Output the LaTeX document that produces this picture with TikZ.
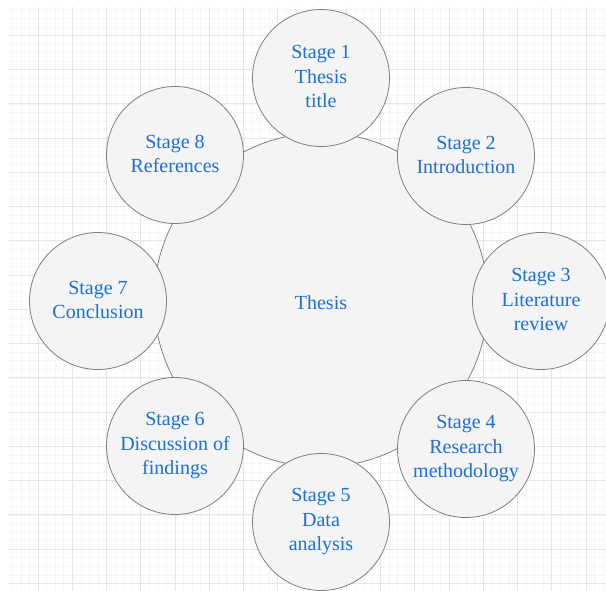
\documentclass[tikz,border=0pt]{standalone}
\usepackage{fontspec}
\setmainfont{Liberation Serif}
\newfontfamily\stagefont{Liberation Serif}
\usepackage{tikz}
\usetikzlibrary{positioning}
\usepackage{xcolor}
\definecolor{stagetext}{HTML}{1C6FD6}
\definecolor{stagefill}{HTML}{F4F4F4}
\definecolor{stageline}{HTML}{7F7F7F}
\definecolor{gridminor}{HTML}{F6F6F6}
\definecolor{gridmajor}{HTML}{E6E6E6}

\begin{document}
\begin{tikzpicture}[
  x=1pt,y=-1pt,
  stage/.style={circle,draw=stageline,line width=0.8pt,fill=stagefill,
    minimum size=#1,inner sep=0pt,align=center,text=stagetext,
    font=\stagefont\fontsize{20}{24.5}\selectfont,
    execute at begin node=\rule{0pt}{22pt},
    execute at end node=\rule[-2.4pt]{0pt}{0pt}},
  stage/.default=137pt,
  minorline/.style={gridminor,line width=0.6pt},
  majorline/.style={gridmajor,line width=0.9pt}
  ]
\def\g{8.5625}
\useasboundingbox[fill=white] (0,0) rectangle (606,591);
% grid paper
\begin{scope}
\clip (8,8) rectangle (606,591);
\foreach \i in {0,...,71} \draw[minorline] ({3.75+\i*\g},0) -- ++(0,600);
\foreach \i in {0,...,70} \draw[minorline] (0,{1.15+\i*\g}) -- ++(620,0);
\foreach \i in {0,...,18} \draw[majorline] ({3.75+4*\i*\g},0) -- ++(0,600);
\foreach \i in {0,...,18} \draw[majorline] (0,{1.15+4*\i*\g}) -- ++(620,0);
\end{scope}
% centre
\node[stage=334pt] (thesis) at (321,300) {Thesis};
% stages
\node[stage] (s1) at (321,78)  {Stage 1\\Thesis\\title};
\node[stage] (s2) at (466,156) {Stage 2\\Introduction};
\node[stage] (s3) at (541,301) {Stage 3\\Literature\\review};
\node[stage] (s4) at (466,449) {Stage 4\\Research\\methodology};
\node[stage] (s5) at (321,522) {Stage 5\\Data\\analysis};
\node[stage] (s6) at (175,446) {Stage 6\\Discussion of\\findings};
\node[stage] (s7) at (98,301)  {Stage 7\\Conclusion};
\node[stage] (s8) at (175,155) {Stage 8\\References};
\end{tikzpicture}
\end{document}
